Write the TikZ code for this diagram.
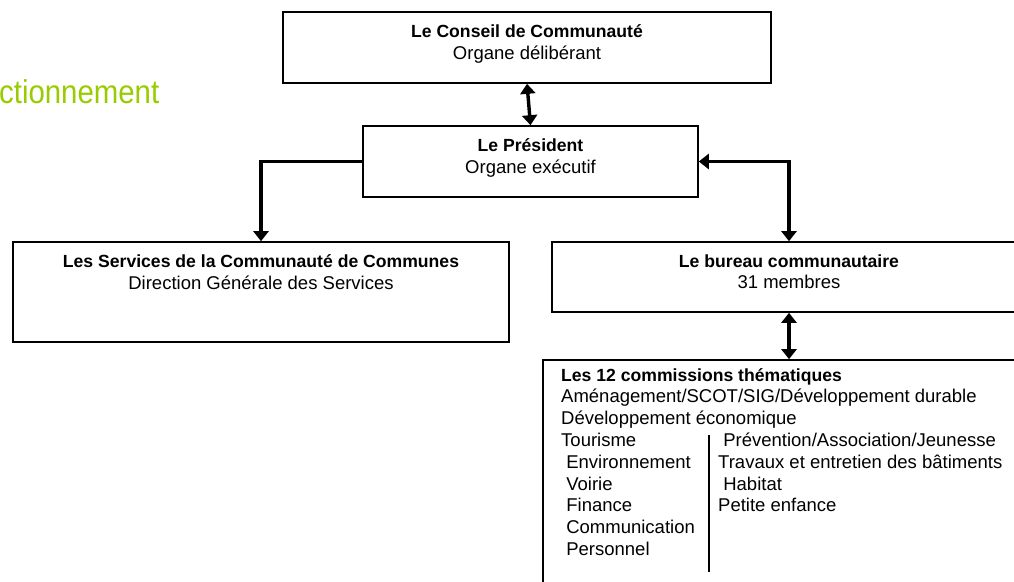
\documentclass[tikz,border=0pt]{standalone}
\usepackage{fontspec}
\setmainfont{Liberation Sans}
\newfontfamily\headfont[FakeStretch=0.89]{Liberation Sans}
\usetikzlibrary{arrows.meta,positioning}
\definecolor{headgreen}{RGB}{153,204,0}

\tikzset{
  box/.style={draw, line width=1.6pt, inner sep=0pt},
  boxtext/.style={anchor=north, align=center, inner sep=0pt,
    font=\fontsize{18.5}{21.7}\selectfont},
  listtext/.style={anchor=north west, align=left, inner sep=0pt,
    font=\fontsize{18.5}{21.7}\selectfont},
  onelink/.style={line width=3.4pt, -{Triangle[width=15pt,length=10pt]}},
  twolink/.style={line width=3.4pt,
    {Triangle[width=15pt,length=10pt]}-{Triangle[width=15pt,length=10pt]}}
}
\newcommand{\boxhead}[1]{{\bfseries\fontsize{17.6}{21.7}\selectfont #1}}

\begin{document}
\begin{tikzpicture}[x=1pt,y=-1pt]
  \useasboundingbox (0,0) rectangle (1014,581);
  \clip (0,0) rectangle (1014,581);

  % title, cut at the left edge
  \node[anchor=base west, inner sep=0pt, text=headgreen,
    font=\headfont\fontsize{33}{33}\selectfont] (head) at (-1,103) {ctionnement};

  % boxes
  \node[box, minimum width=488pt, minimum height=71pt] (conseil) at (527,47.5) {};
  \node[box, minimum width=335pt, minimum height=71pt] (president) at (530.5,161.5) {};
  \node[box, minimum width=496pt, minimum height=100pt] (services) at (261,292) {};
  \node[box, minimum width=474pt, minimum height=70pt] (bureau) at (789,277) {};
  \node[box, minimum width=497pt, minimum height=240pt] (commissions) at (791.5,480) {};

  % texts of the boxes
  \node[boxtext, yshift=-13pt] (conseiltxt) at (conseil.north)
    {\boxhead{Le Conseil de Communauté}\\Organe délibérant};
  \node[boxtext, yshift=-13pt] (presidenttxt) at (president.north)
    {\boxhead{Le Président}\\Organe exécutif};
  \node[boxtext, yshift=-13pt] (servicestxt) at (services.north)
    {\boxhead{Les Services de la Communauté de Communes}\\Direction Générale des Services};
  \node[boxtext, yshift=-13pt] (bureautxt) at (bureau.north)
    {\boxhead{Le bureau communautaire}\\31 membres};

  \node[listtext] (commtitle) at (561,368)
    {\boxhead{Les 12 commissions thématiques}\\
     Aménagement/SCOT/SIG/Développement durable\\
     Développement économique};
  \node[listtext] (leftcol) at (561,433)
    {Tourisme\\~Environnement\\~Voirie\\~Finance\\~Communication\\~Personnel};
  \node[listtext] (rightcol) at (718,433)
    {~Prévention/Association/Jeunesse\\Travaux et entretien des bâtiments\\~Habitat\\Petite enfance};
  \draw[line width=1.6pt] (709,435) -- (709,572);

  % links
  \draw[twolink] (conseil.south) -- (president.north);
  \draw[onelink] (president.west) -| (services.north);
  \draw[twolink] (president.east) -| (bureau.north);
  \draw[twolink] (bureau.south) -- (bureau.south |- commissions.north);
\end{tikzpicture}
\end{document}
